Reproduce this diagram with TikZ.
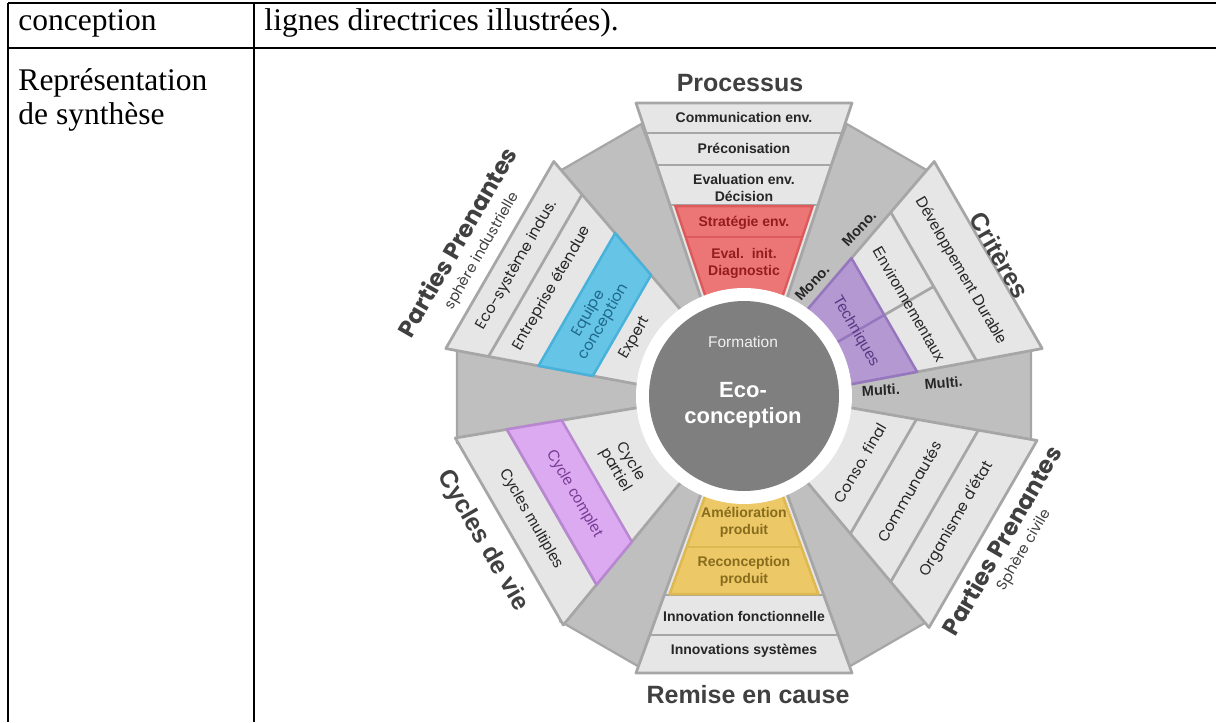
\documentclass[tikz,border=0pt]{standalone}
\usepackage{fontspec}
\setmainfont{Liberation Serif}
\newfontfamily\arialf{Liberation Sans}
\newfontfamily\gothic{Poppins}
\usepackage{tikz}
\usetikzlibrary{positioning}
\definecolor{ink}{RGB}{38,38,38}
\definecolor{titlegray}{RGB}{64,64,64}
\definecolor{secfill}{RGB}{230,230,230}
\definecolor{secline}{RGB}{166,166,166}
\definecolor{wedgegray}{RGB}{191,191,191}
\definecolor{hubgray}{RGB}{127,127,127}
\definecolor{redfill}{RGB}{236,118,118}
\definecolor{redline}{RGB}{222,90,90}
\definecolor{redtext}{RGB}{150,28,28}
\definecolor{bluefill}{RGB}{102,196,230}
\definecolor{blueline}{RGB}{72,178,218}
\definecolor{bluetext}{RGB}{30,105,140}
\definecolor{purpfill}{RGB}{180,152,210}
\definecolor{purpline}{RGB}{150,118,190}
\definecolor{purptext}{RGB}{88,56,130}
\definecolor{pinkfill}{RGB}{220,170,240}
\definecolor{pinkline}{RGB}{185,135,210}
\definecolor{pinktext}{RGB}{120,60,150}
\definecolor{yelfill}{RGB}{236,200,102}
\definecolor{yelline}{RGB}{222,184,80}
\definecolor{yeltext}{RGB}{135,108,30}
% half width of a sector at distance #2, outer distance #1
\newcommand\sechw[2]{(42+66*((#2)-95)/((#1)-95))}
\newcommand\bandpoly[4]{({-\sechw{#1}{#2}+#4},#2) -- ({\sechw{#1}{#2}-#4},#2) -- ({\sechw{#1}{#3}-#4},#3) -- ({-\sechw{#1}{#3}+#4},#3) -- cycle}
\newcommand\bandcut[3]{({-\sechw{#1}{#2}+#3},#2) -- ({\sechw{#1}{#2}-#3},#2)}
\tikzset{
  tabline/.style={line width=1.1pt, draw=black},
  tabtext/.style={font=\fontsize{12.6}{15}\selectfont, inner sep=0pt, anchor=base west},
  lightsec/.style={fill=secfill, draw=secline, line width=1.1pt, line join=round},
  graysec/.style={fill=wedgegray, draw=secline, line width=0.9pt, line join=round},
  divider/.style={draw=secline, line width=1.1pt},
  redband/.style={fill=redfill, draw=redline, line width=1pt, line join=round},
  blueband/.style={fill=bluefill, draw=blueline, line width=1pt, line join=round},
  purpband/.style={fill=purpfill, draw=purpline, line width=1pt, line join=round},
  pinkband/.style={fill=pinkfill, draw=pinkline, line width=1pt, line join=round},
  yelband/.style={fill=yelfill, draw=yelline, line width=1pt, line join=round},
  proclab/.style={font=\arialf\bfseries\fontsize{5.6}{6.8}\selectfont, text=ink,
    align=center, inner sep=0pt, transform shape},
  critlab/.style={font=\arialf\fontsize{6.2}{7.4}\selectfont, text=ink,
    align=center, inner sep=0pt, transform shape},
  gothlab/.style={font=\gothic\fontsize{6}{7}\selectfont, text=ink,
    align=center, inner sep=0pt, transform shape},
  graylab/.style={font=\arialf\bfseries\fontsize{5.8}{7}\selectfont, text=ink, inner sep=0pt},
  bigtitle/.style={font=\arialf\bfseries\fontsize{10}{12}\selectfont, text=titlegray, inner sep=0pt},
  pptitle/.style={font=\gothic\bfseries\fontsize{9.4}{11}\selectfont, text=titlegray, inner sep=0pt},
  ppsub/.style={font=\gothic\fontsize{5.8}{7}\selectfont, text=titlegray, inner sep=0pt},
  hubsmall/.style={font=\arialf\fontsize{6.2}{7.4}\selectfont, text=white!94!black, inner sep=0pt},
  hubbig/.style={font=\arialf\bfseries\fontsize{8.8}{10.4}\selectfont, text=white,
    align=center, inner sep=0pt},
}
\begin{document}
\begin{tikzpicture}[x=0.4pt, y=0.4pt]
  \useasboundingbox (0,0) rectangle (1216,-722);
  % table
  \draw[tabline] (8,-3) -- (1216,-3);
  \draw[tabline] (8,-48) -- (1216,-48);
  \draw[tabline] (8,-3) -- (8,-722);
  \draw[tabline] (254,-3) -- (254,-722);
  \node[tabtext] (cellA) at (18,-30) {conception};
  \node[tabtext] (cellB) at (264,-30) {lignes directrices illustrées).};
  \node[tabtext] (cellC) at (18,-90) {Représentation};
  \node[tabtext] (cellD) at (18,-124) {de synthèse};
  % wheel
  \begin{scope}[shift={(744,-396)}]
    \foreach \a in {60,0,-60,-120,180,120}
      \filldraw[graysec] (0,0) -- (\a+9.3:290.8) -- (\a-9.3:290.8) -- cycle;
    % Processus
    \begin{scope}[rotate=0]
      \filldraw[lightsec] \bandpoly{293}{95}{293}{0};
      \foreach \u in {191,231,263} \draw[divider] \bandcut{293}{\u}{0};
      \filldraw[redband] \bandpoly{293}{95}{190}{5};
      \draw[redline, line width=1pt] \bandcut{293}{159}{5};
      \node[proclab] (pcom) at (0,279) {Communication env.};
      \node[proclab] (ppre) at (0,248) {Préconisation};
      \node[proclab] (peva) at (0,208) {Evaluation env.\\Décision};
      \node[proclab, text=redtext] (pstr) at (0,173) {Stratégie env.};
      \node[proclab, text=redtext] (pini) at (0,133) {Eval.~~init.\\Diagnostic};
    \end{scope}
    % Criteres
    \begin{scope}[rotate=-60]
      \filldraw[lightsec] \bandpoly{282}{95}{282}{0};
      \draw[divider] \bandcut{282}{219}{0};
      \draw[divider] (0,162) -- (0,219);
      \filldraw[purpband] \bandpoly{282}{95}{162}{0};
      \draw[purpline, line width=1pt] (0,95) -- (0,162);
      \node[critlab] (cdev) at (0,250) {Développement Durable};
      \node[critlab] (cenv) at (3,189) {Environnementaux};
      \node[critlab, text=purptext] (ctec) at (0,129) {Techniques};
    \end{scope}
    % Parties prenantes, sphere industrielle
    \begin{scope}[rotate=60]
      \filldraw[lightsec] \bandpoly{282}{95}{282}{0};
      \draw[divider] \bandcut{282}{241}{0};
      \filldraw[blueband] \bandpoly{282}{141}{193}{0};
      \node[gothlab] (ieco) at (0,262) {Eco-système indus.};
      \node[gothlab] (ient) at (-3,220) {Entreprise étendue};
      \node[gothlab, text=bluetext] (iequ) at (-6,167) {Equipe\\conception};
      \node[gothlab] (iexp) at (-4,123) {Expert};
    \end{scope}
    % Parties prenantes, sphere civile
    \begin{scope}[rotate=-120]
      \filldraw[lightsec] \bandpoly{276}{95}{276}{0};
      \draw[divider] \bandcut{276}{220}{0};
      \draw[divider] \bandcut{276}{161}{0};
      \node[gothlab, rotate=180] (corg) at (0,246) {Organisme d'état};
      \node[gothlab, rotate=180] (ccom) at (0,191) {Communautés};
      \node[gothlab, rotate=180] (ccon) at (0,134) {Conso. final};
    \end{scope}
    % Remise en cause
    \begin{scope}[rotate=180]
      \filldraw[lightsec] \bandpoly{277}{95}{277}{0};
      \draw[divider] \bandcut{277}{239}{0};
      \draw[divider] \bandcut{277}{199}{0};
      \filldraw[yelband] \bandpoly{277}{95}{198}{5};
      \draw[yelline, line width=1pt] \bandcut{277}{151}{5};
      \node[proclab, rotate=180] (rsys) at (0,255) {Innovations systèmes};
      \node[proclab, rotate=180] (rfon) at (0,220) {Innovation fonctionnelle};
      \node[proclab, rotate=180, text=yeltext] (rrec) at (0,175) {Reconception\\produit};
      \node[proclab, rotate=180, text=yeltext] (ramel) at (0,126) {Amélioration\\produit};
    \end{scope}
    % Cycles de vie
    \begin{scope}[rotate=120]
      \filldraw[lightsec] \bandpoly{271}{95}{271}{0};
      \draw[divider] \bandcut{271}{222}{0};
      \filldraw[pinkband] \bandpoly{271}{170}{222}{0};
      \node[critlab, rotate=180] (ymul) at (0,246) {Cycles multiples};
      \node[critlab, rotate=180, text=pinktext] (ycom) at (0,196) {Cycle complet};
      \node[gothlab, rotate=180] (ypar) at (0,140) {Cycle\\partiel};
    \end{scope}
    % hub
    \fill[white] (0,0) circle (108);
    \fill[hubgray] (0,0) circle (95);
    \node[hubsmall] (form) at (-1,54) {Formation};
    \node[hubbig] (eco) at (-1,-9) {Eco-\\conception};
    % gray wedge labels
    \node[graylab, rotate=47] (mono1) at (55.5:203) {Mono.};
    \node[graylab, rotate=47] (mono2) at (58.9:132) {Mono.};
    \node[graylab, rotate=3] (multi1) at (2.5:137) {Multi.};
    \node[graylab, rotate=5] (multi2) at (3.7:200) {Multi.};
    % titles
    \node[bigtitle] (tproc) at (-4,313) {Processus};
    \node[bigtitle, rotate=-60] (tcrit) at (28.8:292) {Critères};
    \node[bigtitle] (trem) at (4,-299) {Remise en cause};
    \node[bigtitle, rotate=-60] (tcyc) at (-151:299) {Cycles de vie};
    \node[pptitle, rotate=60] (tppi) at (151.8:326) {Parties Prenantes};
    \node[ppsub, rotate=60] (sppi) at (151:299) {sphère industrielle};
    \node[pptitle, rotate=60] (tppc) at (-29.3:295) {Parties Prenantes};
    \node[ppsub, rotate=60] (sppc) at (-28.8:320) {Sphère civile};
  \end{scope}
\end{tikzpicture}
\end{document}
